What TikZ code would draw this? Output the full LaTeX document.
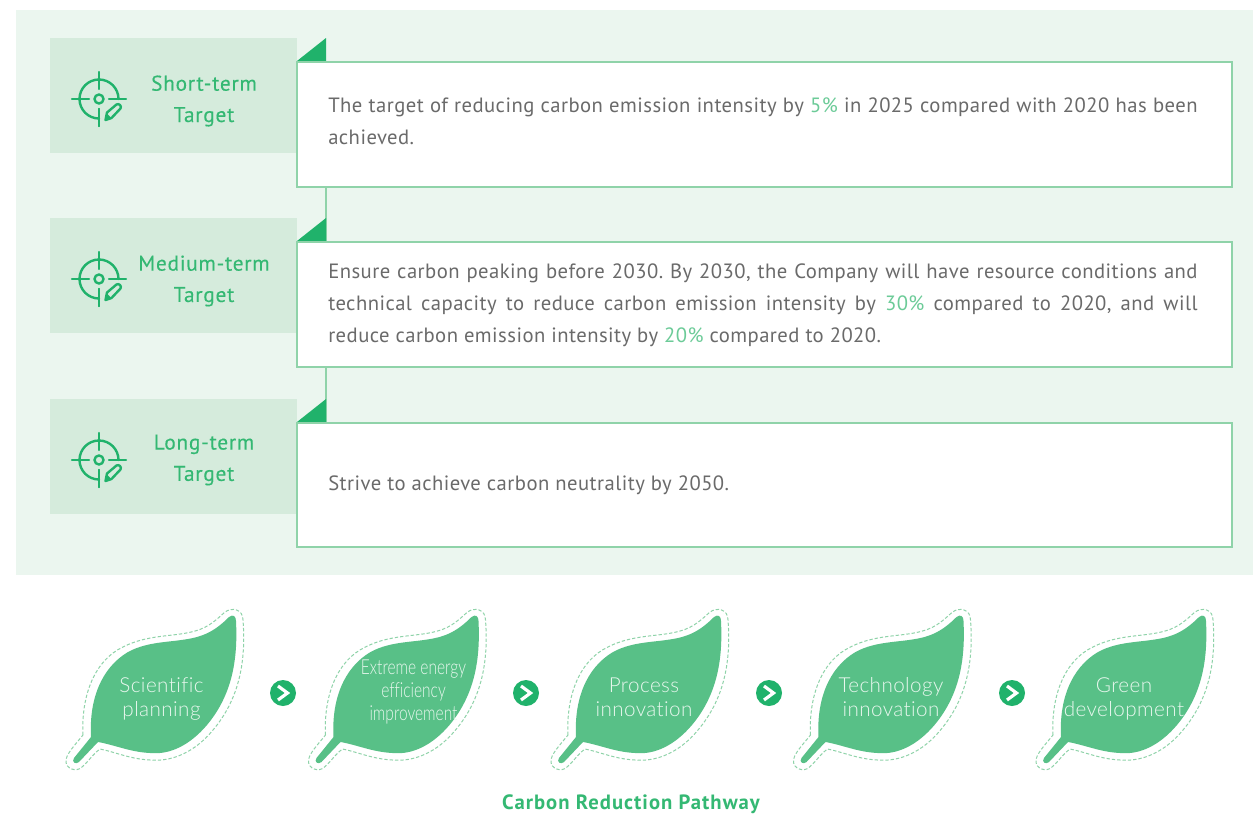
\documentclass[tikz,border=0pt]{standalone}
\usepackage{fontspec}
\setmainfont{PT Sans}
\newfontfamily\lightf{Lato Light}[Ligatures=NoCommon]
\definecolor{bgg}{HTML}{EBF6EF}
\definecolor{headg}{HTML}{D5EBDC}
\definecolor{edgeg}{HTML}{8FD3A9}
\definecolor{darkg}{HTML}{20B26B}
\definecolor{textg}{HTML}{34B873}
\definecolor{leafg}{HTML}{58C087}
\definecolor{bodyg}{HTML}{6A6A6A}
\definecolor{pctg}{HTML}{6CCB98}
\definecolor{leaft}{HTML}{E8F7EE}
\newcommand{\pct}[1]{\textcolor{pctg}{#1}}
\newcommand{\fl}[1]{\hbox to 652pt{\spaceskip=.22em plus 1em minus .1em #1}}
\frenchspacing
\tikzset{
  x=.75pt,y=-.75pt,
  headbox/.style={fill=headg,draw=none},
  bodybox/.style={fill=white,draw=edgeg,line width=.9pt},
  corner/.style={fill=darkg,draw=none},
  link/.style={draw=edgeg,line width=.9pt},
  headtext/.style={text=textg,font=\fontsize{16}{23.5}\selectfont\addfontfeature{LetterSpace=3.5,FakeBold=0.25},align=center,anchor=center,inner sep=0pt},
  bodytext/.style={text=bodyg,font=\fontsize{15.5}{24}\selectfont\addfontfeature{LetterSpace=2.2},align=left,anchor=west,inner sep=0pt},
  leaftext/.style={text=leaft,font=\lightf\fontsize{15.5}{18.2}\selectfont\addfontfeature{LetterSpace=2},align=center,anchor=center,inner sep=0pt},
  goicon/.style={fill=darkg,draw=none},
  pics/target/.style={code={
    \draw[darkg,line width=1.8pt,line cap=round]
      (0,-27)--(0,-10) (0,27)--(0,10) (-27,0)--(-10,0) (27,0)--(10,0);
    \draw[darkg,line width=1.8pt] (0,0) circle[radius=4.5];
    \draw[darkg,line width=1.8pt,line cap=round]
      (19.5,0) arc[start angle=0,end angle=-270,radius=19.5];
    \fill[headg] (4,4) rectangle (30,30);
    \draw[darkg,line width=1.8pt,line cap=round] (0,10)--(0,27);
    \draw[darkg,line width=1.8pt,line join=round]
      (6.5,21) -- (8,13.5) -- (17.5,5.5) .. controls (20,4) and (23,7) .. (21.5,9.5) -- (12.5,19) -- cycle;
    \fill[darkg] (6,21.5) -- (7.5,14) -- (13,19.5) -- cycle;
  }},
  pics/leaf/.style={code={
    \fill[leafg] (91,737)
      .. controls (89,700) and (101,668) .. (128,652)
      .. controls (150,640) and (175,643) .. (197,637)
      .. controls (212,633) and (222,624) .. (229,617)
      .. controls (233,614) and (236,616) .. (236,621)
      .. controls (238,660) and (232,695) .. (207,725)
      .. controls (190,745) and (170,755) .. (150,753)
      .. controls (130,752) and (115,745) .. (98,742)
      -- (79,762) .. controls (76,765) and (71,762) .. (74,758) -- cycle;
    \draw[edgeg,line width=.75pt,dash pattern=on 2.5pt off 1.5pt] (83,735)
      .. controls (81,695) and (95,660) .. (123,647)
      .. controls (148,634) and (175,637) .. (195,631)
      .. controls (210,627) and (218,618) .. (225,612)
      .. controls (232,607) and (243,609) .. (243,620)
      .. controls (246,660) and (240,698) .. (213,730)
      .. controls (195,752) and (172,762) .. (150,760)
      .. controls (130,759) and (115,752) .. (100,749)
      .. controls (93,754) and (88,762) .. (82,767)
      .. controls (76,773) and (66,768) .. (66,762)
      .. controls (65,755) and (75,745) .. (83,735) -- cycle;
  }},
}
\begin{document}
\begin{tikzpicture}
\useasboundingbox (0,0) rectangle (1253,814);
\fill[white] (0,0) rectangle (1253,814);
\fill[bgg] (16,10) rectangle (1253,575);
% links
\coordinate (l1a) at (326,187); \coordinate (l1b) at (326,242);
\coordinate (l2a) at (326,367); \coordinate (l2b) at (326,423);
\draw[link] (l1a) -- (l1b);
\draw[link] (l2a) -- (l2b);
% rows
\foreach \n/\t in {1/38,2/218,3/399}{
  \path[headbox] (50,\t) rectangle ++(247,115);
  \path[corner] (297,\t+23) -- (326,\t) -- (326,\t+23) -- cycle;
  \pic at (99,\t+61) {target};
}
\draw[bodybox] (297,62) rectangle (1232,187);
\draw[bodybox] (297,242) rectangle (1232,367);
\draw[bodybox] (297,423) rectangle (1232,547);
\node[headtext] (h1) at (204,101) {Short-term\\Target};
\node[headtext] (h2) at (204,281) {Medium-term\\Target};
\node[headtext] (h3) at (204,460) {Long-term\\Target};
\node[bodytext] (b1) at (328,121) {\fl{The target of reducing carbon emission intensity by \pct{5\%} in 2025 compared with 2020 has been}\\achieved.};
\node[bodytext] (b2) at (328,305) {\fl{Ensure carbon peaking before 2030. By 2030, the Company will have resource conditions and}\\\fl{technical capacity to reduce carbon emission intensity by \pct{30\%} compared to 2020, and will}\\reduce carbon emission intensity by \pct{20\%} compared to 2020.};
\node[bodytext] (b3) at (328,485) {Strive to achieve carbon neutrality by 2050.};
% leaves
\foreach \d in {0,242.5,485,727.5,970}{ \pic at (\d,0) {leaf}; }
\node[leaftext] (t1) at (161.5,699) {Scientific\\planning};
\node[leaftext,font=\lightf\fontsize{15.5}{17.6}\selectfont] (t2) at (413.5,692) {\scalebox{.75}[1]{Extreme energy}\\\scalebox{.75}[1]{efficiency}\\\scalebox{.75}[1]{improvement}};
\node[leaftext] (t3) at (644,697) {Process\\innovation};
\node[leaftext] (t4) at (891,697) {Technology\\innovation};
\node[leaftext] (t5) at (1124,699) {Green\\development};
% arrows
\foreach \n/\x in {1/283,2/526,3/769,4/1012}{
  \node[goicon,circle,minimum size=19.5pt,inner sep=0pt] (g\n) at (\x,693) {};
  \draw[white,line width=2.4pt,line join=miter] (\x-5,686) -- (\x+4.5,693) -- (\x-5,700);
}
\node[text=textg,font=\bfseries\fontsize{15.5}{18}\selectfont\addfontfeature{LetterSpace=5},inner sep=0pt] (cap) at (631,804) {Carbon Reduction Pathway};
\end{tikzpicture}
\end{document}
